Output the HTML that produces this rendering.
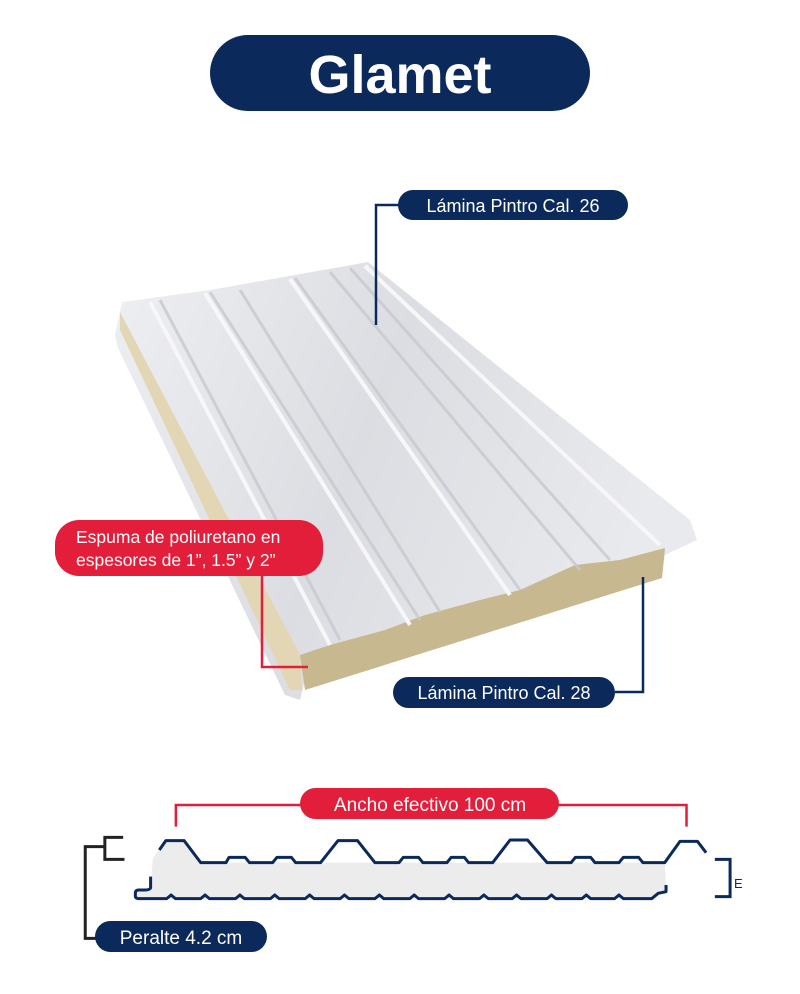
<!DOCTYPE html>
<html><head><meta charset="utf-8"><style>
body{margin:0;background:#fff;width:800px;height:989px;overflow:hidden;font-family:"Liberation Sans",sans-serif}
</style></head><body>
<svg width="800" height="989" viewBox="0 0 800 989" xmlns="http://www.w3.org/2000/svg">
<defs>
<linearGradient id="pg" x1="0" y1="0" x2="1" y2="0.3">
<stop offset="0" stop-color="#eeeff2"/><stop offset="0.5" stop-color="#dcdde2"/><stop offset="1" stop-color="#e9eaed"/>
</linearGradient>
</defs>
<rect x="210" y="35" width="380" height="76" rx="38" fill="#0b2a5b"/>
<text x="400" y="93" text-anchor="middle" font-size="54" font-weight="bold" fill="#fff" font-family="Liberation Sans, sans-serif">Glamet</text>

<polygon points="115,335 122,302 210,290 295,275 368,262 690,520 697,540 665,555 662,575 310,660 300,700 285,695 118,348" fill="url(#pg)"/>
<polygon points="120,312 300,655 302,690 290,690 120,330" fill="#e2d6b4"/>
<polygon points="300,655 330,645 385,630 425,615 480,600 520,590 575,565 620,560 665,548 662,578 305,690" fill="#c7b88f"/>
<g stroke="#c8c9cf" stroke-width="3" fill="none" opacity="0.8">
<line x1="160" y1="300" x2="340" y2="640"/>
<line x1="210" y1="292" x2="420" y2="620"/>
<line x1="240" y1="290" x2="440" y2="612"/>
<line x1="295" y1="278" x2="520" y2="590"/>
<line x1="330" y1="272" x2="580" y2="570"/>
<line x1="350" y1="268" x2="610" y2="560"/>
</g>
<g stroke="#f7f7f9" stroke-width="4" fill="none">
<line x1="150" y1="302" x2="330" y2="645"/>
<line x1="205" y1="293" x2="410" y2="625"/>
<line x1="290" y1="279" x2="510" y2="595"/>
<line x1="365" y1="266" x2="660" y2="545"/>
</g>

<polyline points="376,325 376,205 400,205" fill="none" stroke="#0b2a5b" stroke-width="2.5"/>
<rect x="398" y="190" width="230" height="30" rx="15" fill="#0b2a5b"/>
<text x="513" y="212" text-anchor="middle" font-size="18" fill="#fff">Lámina Pintro Cal. 26</text>

<polyline points="615,692 643,692 643,577" fill="none" stroke="#0b2a5b" stroke-width="2.5"/>
<rect x="393" y="677" width="222" height="31" rx="15.5" fill="#0b2a5b"/>
<text x="504" y="699" text-anchor="middle" font-size="18" fill="#fff">Lámina Pintro Cal. 28</text>

<polyline points="262,575 262,667 308,667" fill="none" stroke="#e31e3a" stroke-width="2.5"/>
<rect x="55" y="520" width="268" height="56" rx="24" fill="#e31e3a"/>
<text x="76" y="543" font-size="17.5" fill="#fff">Espuma de poliuretano en</text>
<text x="76" y="566" font-size="17.5" fill="#fff">espesores de 1”, 1.5” y 2”</text>

<g transform="translate(70,780) scale(0.4357,0.3333)">
<path d="M190,235 L220,182 L262,182 L300,248 L1365,248 L1368,330 L1340,355 L160,357 L150,340 L185,325 Z" fill="#ececec"/>
<g fill="none" stroke-width="3" vector-effect="non-scaling-stroke">
<polyline stroke="#0b2a5b" stroke-width="3" vector-effect="non-scaling-stroke" stroke-linejoin="round" points="205,210 220,182 262,182 300,248 358,248 365,232 402,232 412,248 465,248 475,232 508,232 518,248 575,248 615,182 660,182 700,248 755,248 765,232 800,232 810,248 865,248 875,232 905,232 915,248 970,248 1010,180 1050,180 1095,248 1150,248 1160,232 1195,232 1205,248 1260,248 1270,232 1305,232 1315,248 1365,248 1400,184 1440,184 1460,218"/>
<path d="M185,290 L185,322 Q185,330 170,330 L158,330 Q150,330 150,340 L150,348 Q150,356 160,356 L222,356 L232,345 L242,356 L300,356 L310,345 L320,356 L380,356 L390,345 L400,356 L460,356 L470,345 L480,356 L540,356 L550,345 L560,356 L620,356 L630,345 L640,356 L700,356 L710,345 L720,356 L780,356 L790,345 L800,356 L860,356 L870,345 L880,356 L940,356 L950,345 L960,356 L1015,356 L1025,345 L1035,356 L1095,356 L1105,345 L1115,356 L1175,356 L1185,345 L1195,356 L1250,356 L1260,345 L1270,356 L1335,356 L1350,340 L1368,335 L1368,315" stroke="#0b2a5b" stroke-width="3" vector-effect="non-scaling-stroke" stroke-linejoin="round"/>
<polyline points="1480,238 1515,238 1515,350 1480,350" stroke="#0b2a5b" stroke-width="3" vector-effect="non-scaling-stroke"/>
<polyline points="122,172 80,172 80,238 125,238" stroke="#222" stroke-width="3" vector-effect="non-scaling-stroke"/>
<polyline points="80,200 35,200 35,475 65,475" stroke="#222" stroke-width="3" vector-effect="non-scaling-stroke"/>
<polyline points="243,140 243,75 540,75" stroke="#e31e3a" stroke-width="2.5" vector-effect="non-scaling-stroke"/>
<polyline points="1120,75 1415,75 1415,140" stroke="#e31e3a" stroke-width="2.5" vector-effect="non-scaling-stroke"/>
</g>
</g>
<text x="734" y="888" font-size="13" fill="#0b2a5b">E</text>
<rect x="300" y="788" width="259" height="31" rx="15.5" fill="#e31e3a"/>
<text x="430" y="811" text-anchor="middle" font-size="19" fill="#fff">Ancho efectivo 100 cm</text>
<rect x="95" y="921" width="172" height="31" rx="15.5" fill="#0b2a5b"/>
<text x="181" y="944" text-anchor="middle" font-size="19" fill="#fff">Peralte 4.2 cm</text>
</svg>
</body></html>
